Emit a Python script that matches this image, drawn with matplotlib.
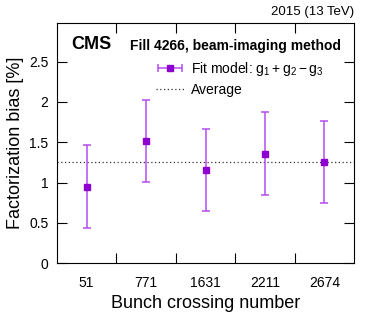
import numpy as np
import matplotlib.pyplot as plt
from matplotlib.container import ErrorbarContainer
from matplotlib.legend_handler import HandlerErrorbar

plt.rcParams["font.family"] = ["Liberation Sans", "DejaVu Sans"]
plt.rcParams["mathtext.fontset"] = "custom"
plt.rcParams["mathtext.rm"] = "Liberation Sans"
plt.rcParams["mathtext.it"] = "Liberation Sans"

# data
bunches = ["51", "771", "1631", "2211", "2674"]
bias = [0.95, 1.52, 1.16, 1.36, 1.26]
bias_err = [0.51, 0.51, 0.51, 0.51, 0.51]
average = 1.25

err_col = "#b54cf2"
mk_col = "#8e00d0"

fig = plt.figure(figsize=(3.74, 3.12), dpi=100)
ax = fig.add_axes([0.152, 0.157, 0.795, 0.769])

x = np.arange(len(bunches))
ax.errorbar(x, bias, yerr=bias_err, fmt="s", color=mk_col, ms=5,
            ecolor=err_col, elinewidth=1.1, capsize=3, capthick=1.1, zorder=3)
# legend entry drawn with a horizontal bar, as in the original
leg_eb = ax.errorbar([np.nan], [np.nan], xerr=[1], fmt="s", color=mk_col, ms=5,
                     ecolor=err_col, elinewidth=1.1, capsize=3, capthick=1.1,
                     label="Fit model: $\\mathregular{g_1 + g_2 - g_3}$")
avg = ax.axhline(average, color="#333333", ls=(0, (1, 2)), lw=0.9, label="Average")

ax.set_xlim(-0.5, len(bunches) - 0.5)
ax.set_ylim(0, 2.98)

# category boundaries as ticks, labels at the centres
ax.set_xticks(np.arange(len(bunches) - 1) + 0.5)
ax.set_xticklabels([])
ax.set_xticks(x, minor=True)
ax.set_xticklabels(bunches, minor=True)
ax.tick_params(axis="x", which="minor", length=0, labelsize=10, pad=9)
ax.tick_params(axis="x", which="major", direction="in", length=7, top=True)
ax.set_yticks([0, 0.5, 1, 1.5, 2, 2.5])
ax.set_yticklabels(["0", "0.5", "1", "1.5", "2", "2.5"])
ax.tick_params(axis="y", direction="in", length=7, right=True, labelsize=10, pad=6)

ax.set_xlabel("Bunch crossing number", fontsize=13)
ax.set_ylabel("Factorization bias [%]", fontsize=13)

ax.text(0.05, 0.91, "CMS", transform=ax.transAxes, fontsize=13, fontweight="bold", va="center")
ax.text(0.245, 0.905, "Fill 4266, beam-imaging method", transform=ax.transAxes,
        fontsize=10, fontweight="bold", va="center")
ax.text(1.0, 1.02, "2015 (13 TeV)", transform=ax.transAxes, fontsize=9.5, ha="right", va="bottom")

ax.legend(handles=[leg_eb, avg], loc="upper left", bbox_to_anchor=(0.305, 0.88), frameon=False,
          fontsize=10, handlelength=2.0, handletextpad=0.5, labelspacing=0.35,
          borderpad=0.1, handler_map={ErrorbarContainer: HandlerErrorbar(xerr_size=0.85)})

fig.savefig("out.png", dpi=100)
